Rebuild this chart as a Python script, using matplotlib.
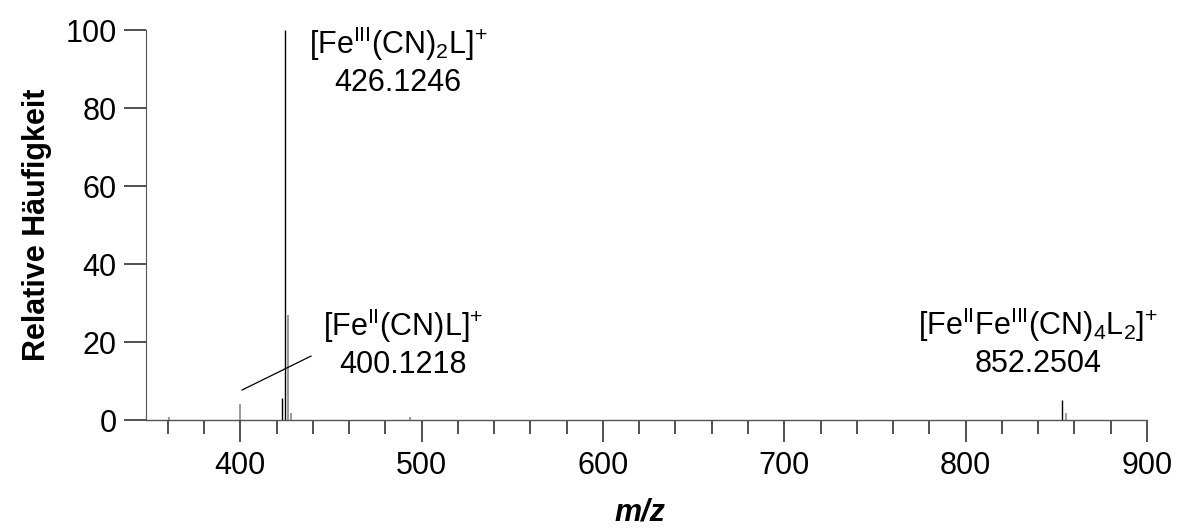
import matplotlib.pyplot as plt
from matplotlib.ticker import MultipleLocator

plt.rcParams['font.family'] = ['Liberation Sans', 'DejaVu Sans']
plt.rcParams['mathtext.fontset'] = 'custom'
plt.rcParams['mathtext.rm'] = 'Liberation Sans'
plt.rcParams['mathtext.it'] = 'Liberation Sans:italic'
plt.rcParams['mathtext.bf'] = 'Liberation Sans:bold'

# Peaks (m/z, relative abundance), Positionen
mz_main = [422.8, 424.4, 853.0]
int_main = [5.7, 100, 5.1]
mz_iso = [360.5, 400.1, 426.5, 428.1, 493.7, 855.2]
int_iso = [0.8, 4.0, 27.0, 1.7, 0.7, 1.9]

labels = [r"[Fe$^{\mathrm{III}}$(CN)$_{\mathrm{2}}$L]$^{\mathrm{+}}$" + "\n426.1246",
          r"[Fe$^{\mathrm{II}}$(CN)L]$^{\mathrm{+}}$" + "\n400.1218",
          r"[Fe$^{\mathrm{II}}$Fe$^{\mathrm{III}}$(CN)$_{\mathrm{4}}$L$_{\mathrm{2}}$]$^{\mathrm{+}}$" + "\n852.2504"]
label_pos = [(487, 91.9), (490, 19.6), (839.9, 19.9)]

fig = plt.figure(figsize=(11.79, 5.29), dpi=100)
ax = fig.add_axes([0.1238, 0.206, 0.849, 0.737])

ax.vlines(mz_iso, 0, int_iso, colors="#8a8a8a", linewidth=1.2)
ax.vlines(mz_main, 0, int_main, colors="black", linewidth=1.0)

# Zuordnungslinie fuer den 400er Peak
ax.plot([401, 439], [7.7, 16.4], color="black", linewidth=0.9)

for txt, (x, y) in zip(labels, label_pos):
    ax.text(x, y, txt, ha="center", va="center", fontsize=22, linespacing=1.22)

ax.set_xlim(348, 900)
ax.set_ylim(0, 100)
ax.xaxis.set_major_locator(MultipleLocator(100))
ax.xaxis.set_minor_locator(MultipleLocator(20))
ax.yaxis.set_major_locator(MultipleLocator(20))

for s in ["top", "right"]:
    ax.spines[s].set_visible(False)
ax.spines["left"].set_color("#555555")
ax.spines["bottom"].set_color("#555555")
ax.spines["bottom"].set_linestyle((0, (1, 1)))
ax.spines["bottom"].set_linewidth(1.0)

ax.tick_params(axis="both", which="major", labelsize=22, length=16, width=1.2, color="#333333", pad=5)
ax.tick_params(axis="x", which="minor", length=10, width=1.2, color="#333333")
ax.tick_params(axis="x", which="major", pad=6)

ax.set_ylabel("Relative Häufigkeit", fontsize=22, fontweight="bold", labelpad=10)
fig.text(640 / 1179, 0.003, "m/z", ha="center", va="bottom", fontsize=22,
         fontweight="bold", fontstyle="italic")

plt.savefig("out.png", dpi=100)
